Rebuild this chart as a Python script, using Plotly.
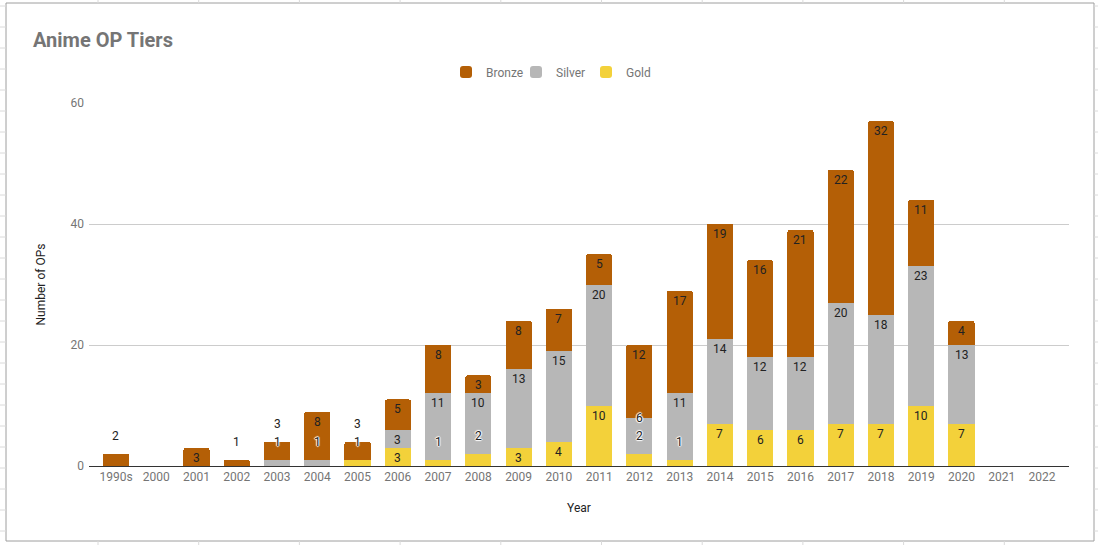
import plotly.graph_objects as go
import numpy as np

# Data
years = ["1990s", "2000", "2001", "2002", "2003", "2004", "2005", "2006", "2007", "2008",
         "2009", "2010", "2011", "2012", "2013", "2014", "2015", "2016", "2017", "2018",
         "2019", "2020", "2021", "2022"]
gold = [0, 0, 0, 0, 0, 0, 1, 3, 1, 2, 3, 4, 10, 2, 1, 7, 6, 6, 7, 7, 10, 7, 0, 0]
silver = [0, 0, 0, 0, 1, 1, 0, 3, 11, 10, 13, 15, 20, 6, 11, 14, 12, 12, 20, 18, 23, 13, 0, 0]
bronze = [2, 0, 3, 1, 3, 8, 3, 5, 8, 3, 8, 7, 5, 12, 17, 19, 16, 21, 22, 32, 11, 4, 0, 0]
y_ticks = [0, 20, 40, 60]

colors = {"Gold": "#f3d13a", "Silver": "#b7b7b7", "Bronze": "#b45f06"}

W, H = 1098, 545
ml, mr, mt, mb = 89, 29, 103, 79
ymax = 60
ppu = (H - mt - mb) / ymax  # pixels per unit on y

fig = go.Figure()
for name, vals in [("Gold", gold), ("Silver", silver), ("Bronze", bronze)]:
    fig.add_trace(go.Bar(
        x=years, y=vals, name=name,
        marker=dict(color=colors[name], line=dict(width=0)),
        textposition="none", hoverinfo="x+y+name",
    ))

# Data labels, placed like Google Sheets (top of segment, pushed up when crowded)
annotations = []
for i, yr in enumerate(years):
    base = 0
    prev = None
    for vals in (gold, silver, bronze):
        v = vals[i]
        if v <= 0:
            continue
        top = base + v
        top_px = top * ppu
        fits = v * ppu >= 16
        lab = top_px - 10 if fits else top_px + 18
        moved = not fits
        if prev is not None and lab < prev + 18:
            lab = prev + 18
            moved = True
        font = dict(family="Roboto", size=12, color="#222222")
        if moved:
            font["shadow"] = ("1px 0 1px #fff, -1px 0 1px #fff, 0 1px 1px #fff, "
                              "0 -1px 1px #fff, 0 0 2px #fff")
        # category index (the year strings would be read as numbers)
        annotations.append(dict(
            x=i, y=top, xref="x", yref="y", text=str(v), showarrow=False,
            yshift=lab - top_px, font=font, xanchor="center", yanchor="middle",
        ))
        prev = lab
        base = top

# Chart frame and the spreadsheet cell lines around it
def px_x(p):
    return (p - ml) / (W - ml - mr)

def px_y(p):
    return (H - mb - p) / (H - mt - mb)

shapes = [dict(type="rect", xref="paper", yref="paper",
               x0=px_x(6), x1=px_x(1094), y0=px_y(541), y1=px_y(3),
               line=dict(color="#9e9e9e", width=1), layer="below")]
for xc in np.arange(98, W, 100.7):
    for y0, y1 in ((0, 3), (541, H)):
        shapes.append(dict(type="line", xref="paper", yref="paper",
                           x0=px_x(xc), x1=px_x(xc), y0=px_y(y0), y1=px_y(y1),
                           line=dict(color="#dadada", width=1), layer="below"))
for yc in np.arange(6, H, 21):
    for x0, x1 in ((0, 6), (1094, W)):
        shapes.append(dict(type="line", xref="paper", yref="paper",
                           x0=px_x(x0), x1=px_x(x1), y0=px_y(yc), y1=px_y(yc),
                           line=dict(color="#dadada", width=1), layer="below"))

fig.update_layout(
    width=W, height=H,
    margin=dict(l=ml, r=mr, t=mt, b=mb, autoexpand=False),
    paper_bgcolor="white", plot_bgcolor="white",
    barmode="stack", bargap=0.35, barcornerradius=2,
    font=dict(family="Roboto", size=12, color="#757575"),
    title=dict(text="<b>Anime OP Tiers</b>", x=33 / W, xref="container", xanchor="left",
               y=1 - 40 / H, yref="container", yanchor="middle",
               font=dict(family="Roboto", size=20, color="#757575")),
    legend=dict(orientation="h", traceorder="reversed", x=551 / W, xref="container",
                xanchor="center", y=1 - 72 / H, yref="container", yanchor="middle",
                font=dict(size=12, color="#757575"), itemwidth=30,
                entrywidth=25, entrywidthmode="pixels"),
    annotations=annotations,
    shapes=shapes,
)

fig.update_xaxes(
    type="category", range=[-0.67, len(years) - 0.33],
    showline=True, linecolor="#333333", linewidth=1, showgrid=False,
    tickfont=dict(size=12, color="#757575"),
    title=dict(text="Year", font=dict(size=12, color="#222222"), standoff=20),
)
fig.update_yaxes(
    range=[0, ymax], tickvals=y_ticks, showgrid=True, gridcolor="#cccccc",
    zeroline=False, showline=False, ticklabelstandoff=4,
    tickfont=dict(size=12, color="#757575"),
    title=dict(text="Number of OPs", font=dict(size=12, color="#222222"), standoff=22),
)

fig.write_html("out.html", config={"displayModeBar": False},
               post_script="document.body.style.margin='0';")
